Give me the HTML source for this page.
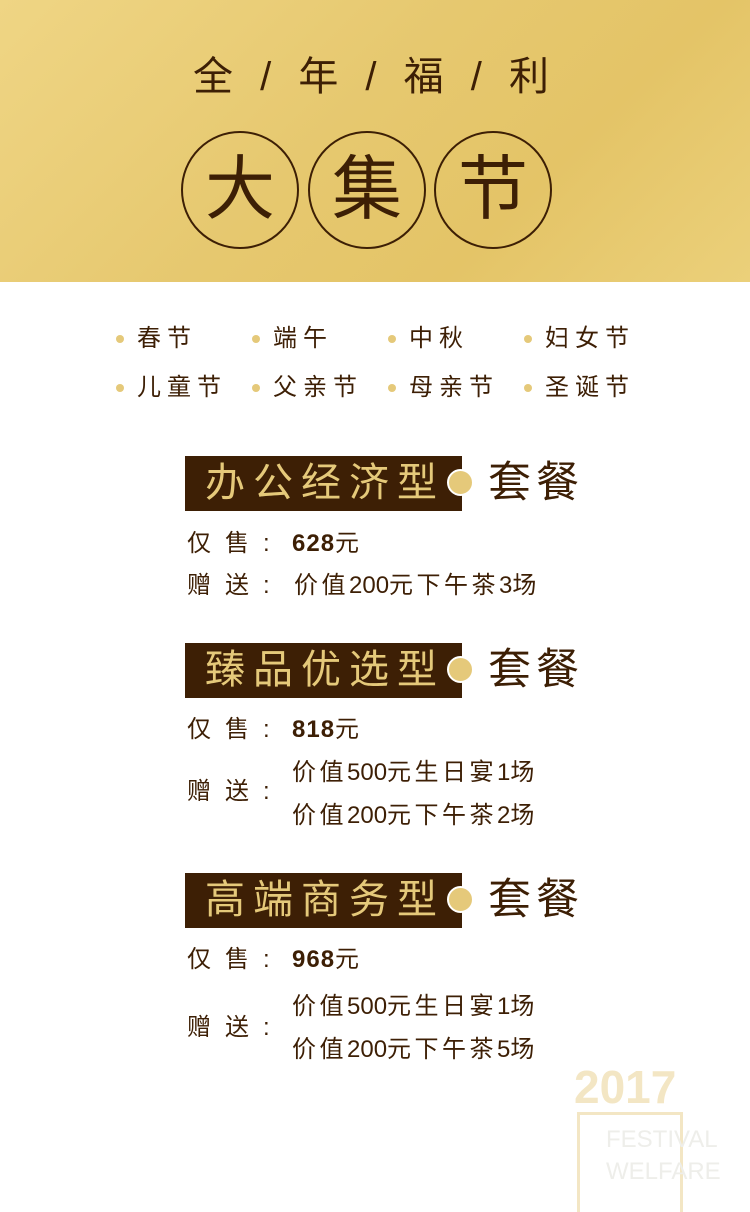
<!DOCTYPE html>
<html><head><meta charset="utf-8"><style>
*{margin:0;padding:0;box-sizing:border-box}
body{width:750px;height:1206px;position:relative;background:#fff;font-family:"Liberation Sans","Noto Sans CJK SC",sans-serif;color:#3d1f05;overflow:hidden}
.a{position:absolute;white-space:nowrap}
.hdr{left:0;top:0;width:750px;height:282px;background:linear-gradient(135deg,#efd584 0%,#e6c86f 45%,#e4c467 70%,#ebd07a 100%)}
.title{left:0;width:750px;text-align:center;top:52px;font-size:40px;letter-spacing:8px;line-height:50px}
.circ{width:118px;height:118px;border:2.5px solid #3d1f05;border-radius:50%;top:131px;font-size:70px;line-height:112px;text-align:center}
.dot{width:8px;height:8px;border-radius:50%;background:#e5c97a}
.fest{font-size:24px;letter-spacing:6px;line-height:30px}
.box{left:185px;width:277px;height:55px;background:#3d1f05;color:#e5c97a;font-size:40px;letter-spacing:8px;line-height:55px;padding-left:20px}
.bdot{width:27px;height:27px;border-radius:50%;background:#e5c97a;border:2px solid #fff;left:447px}
.tc{left:488px;font-size:43px;letter-spacing:5px;line-height:55px}
.r{font-size:24px;line-height:30px;letter-spacing:4px}
.lab{left:187px;letter-spacing:14px}
b{font-weight:bold;letter-spacing:1px}
.n{letter-spacing:0}
.g{letter-spacing:3.5px}
</style></head><body>
<div class="a hdr"></div>
<div class="a title">全 / 年 / 福 / 利</div>
<div class="a circ" style="left:181px">大</div>
<div class="a circ" style="left:308px">集</div>
<div class="a circ" style="left:434px">节</div>

<div>
<div class="a dot" style="left:116px;top:335px"></div><div class="a fest" style="left:137px;top:324px">春节</div>
<div class="a dot" style="left:252px;top:335px"></div><div class="a fest" style="left:273px;top:324px">端午</div>
<div class="a dot" style="left:388px;top:335px"></div><div class="a fest" style="left:409px;top:324px">中秋</div>
<div class="a dot" style="left:524px;top:335px"></div><div class="a fest" style="left:545px;top:324px">妇女节</div>
<div class="a dot" style="left:116px;top:384px"></div><div class="a fest" style="left:137px;top:373px">儿童节</div>
<div class="a dot" style="left:252px;top:384px"></div><div class="a fest" style="left:273px;top:373px">父亲节</div>
<div class="a dot" style="left:388px;top:384px"></div><div class="a fest" style="left:409px;top:373px">母亲节</div>
<div class="a dot" style="left:524px;top:384px"></div><div class="a fest" style="left:545px;top:373px">圣诞节</div>
</div>

<div class="a box" style="top:456px">办公经济型</div>
<div class="a bdot" style="top:469px"></div>
<div class="a tc" style="top:456px">套餐</div>
<div class="a r lab" style="top:529px">仅售<span style="letter-spacing:0">:</span></div>
<div class="a r" style="left:292px;top:529px"><b>628</b>元</div>
<div class="a r lab" style="top:571px">赠送<span style="letter-spacing:0">:</span></div>
<div class="a r g" style="left:294px;top:571px">价值<span class="n">200</span>元下午茶<span class="n">3</span>场</div>

<div class="a box" style="top:643px">臻品优选型</div>
<div class="a bdot" style="top:656px"></div>
<div class="a tc" style="top:643px">套餐</div>
<div class="a r lab" style="top:715px">仅售<span style="letter-spacing:0">:</span></div>
<div class="a r" style="left:292px;top:715px"><b>818</b>元</div>
<div class="a r lab" style="top:777px">赠送<span style="letter-spacing:0">:</span></div>
<div class="a r g" style="left:292px;top:758px">价值<span class="n">500</span>元生日宴<span class="n">1</span>场</div>
<div class="a r g" style="left:292px;top:801px">价值<span class="n">200</span>元下午茶<span class="n">2</span>场</div>

<div class="a box" style="top:873px">高端商务型</div>
<div class="a bdot" style="top:886px"></div>
<div class="a tc" style="top:873px">套餐</div>
<div class="a r lab" style="top:945px">仅售<span style="letter-spacing:0">:</span></div>
<div class="a r" style="left:292px;top:945px"><b>968</b>元</div>
<div class="a r lab" style="top:1013px">赠送<span style="letter-spacing:0">:</span></div>
<div class="a r g" style="left:292px;top:992px">价值<span class="n">500</span>元生日宴<span class="n">1</span>场</div>
<div class="a r g" style="left:292px;top:1035px">价值<span class="n">200</span>元下午茶<span class="n">5</span>场</div>

<div class="a" style="left:574px;top:1060px;font-size:46px;font-weight:bold;color:#f3e6c4;line-height:54px">2017</div>
<div class="a" style="left:577px;top:1112px;width:106px;height:100px;border:3px solid #f3e6c4;border-bottom:none"></div>
<div class="a" style="left:606px;top:1125px;font-size:24px;color:#eeeeea;line-height:30px">FESTIVAL</div>
<div class="a" style="left:606px;top:1157px;font-size:24px;color:#eeeeea;line-height:30px">WELFARE</div>
</body></html>
